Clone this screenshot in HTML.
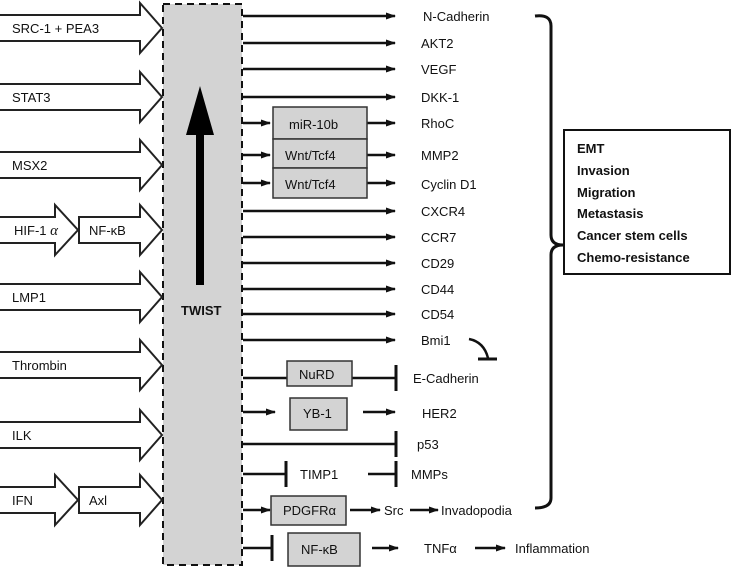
<!DOCTYPE html>
<html><head><meta charset="utf-8"><style>
html,body{margin:0;padding:0;background:#fff;}
svg{display:block;}
text{font-family:"Liberation Sans",sans-serif;font-size:13px;fill:#111;}
.b{font-weight:bold;}
</style></head><body>
<svg width="733" height="568" viewBox="0 0 733 568">
<defs>
<marker id="a" markerWidth="10" markerHeight="10" refX="9" refY="5" orient="auto" markerUnits="userSpaceOnUse"><path d="M0,1.5 L10,5 L0,8.5 Z" fill="#111"/></marker>
</defs>
<rect x="163" y="4" width="79" height="561" fill="#d3d3d3" stroke="#111" stroke-width="2" stroke-dasharray="7,5"/>
<path d="M196,285 L196,135 L186,135 L200,86 L214,135 L204,135 L204,285 Z" fill="#000"/>
<text x="181" y="315" class="b">TWIST</text>
<g fill="#fff" stroke="#222" stroke-width="2">
<path d="M0,15 L140,15 L140,3 L162,28 L140,53 L140,41 L0,41"/>
<path d="M0,84 L140,84 L140,72 L162,97 L140,122 L140,110 L0,110"/>
<path d="M0,152 L140,152 L140,140 L162,165 L140,190 L140,178 L0,178"/>
<path d="M0,217 L55,217 L55,205 L78,230 L55,255 L55,243 L0,243"/>
<path d="M79,217 L140,217 L140,205 L162,230 L140,255 L140,243 L79,243 Z"/>
<path d="M0,284 L140,284 L140,272 L162,297 L140,322 L140,310 L0,310"/>
<path d="M0,352 L140,352 L140,340 L162,365 L140,390 L140,378 L0,378"/>
<path d="M0,422 L140,422 L140,410 L162,435 L140,460 L140,448 L0,448"/>
<path d="M0,487 L55,487 L55,475 L78,500 L55,525 L55,513 L0,513"/>
<path d="M79,487 L140,487 L140,475 L162,500 L140,525 L140,513 L79,513 Z"/>
</g>
<text x="12" y="33">SRC-1 + PEA3</text>
<text x="12" y="102">STAT3</text>
<text x="12" y="170">MSX2</text>
<text x="14" y="235">HIF-1 <tspan font-style="italic" font-family="Liberation Serif" font-size="15">α</tspan></text>
<text x="89" y="235">NF-κB</text>
<text x="12" y="302">LMP1</text>
<text x="12" y="370">Thrombin</text>
<text x="12" y="440">ILK</text>
<text x="12" y="505">IFN</text>
<text x="89" y="505">Axl</text>
<g stroke="#111" stroke-width="2.5" fill="none">
<line x1="243" y1="16" x2="395" y2="16" marker-end="url(#a)"/>
<line x1="243" y1="43" x2="395" y2="43" marker-end="url(#a)"/>
<line x1="243" y1="69" x2="395" y2="69" marker-end="url(#a)"/>
<line x1="243" y1="97" x2="395" y2="97" marker-end="url(#a)"/>
<line x1="243" y1="123" x2="270" y2="123" marker-end="url(#a)"/>
<line x1="367" y1="123" x2="395" y2="123" marker-end="url(#a)"/>
<line x1="243" y1="155" x2="270" y2="155" marker-end="url(#a)"/>
<line x1="367" y1="155" x2="395" y2="155" marker-end="url(#a)"/>
<line x1="243" y1="183" x2="270" y2="183" marker-end="url(#a)"/>
<line x1="367" y1="183" x2="395" y2="183" marker-end="url(#a)"/>
<line x1="243" y1="211" x2="395" y2="211" marker-end="url(#a)"/>
<line x1="243" y1="237" x2="395" y2="237" marker-end="url(#a)"/>
<line x1="243" y1="263" x2="395" y2="263" marker-end="url(#a)"/>
<line x1="243" y1="289" x2="395" y2="289" marker-end="url(#a)"/>
<line x1="243" y1="314" x2="395" y2="314" marker-end="url(#a)"/>
<line x1="243" y1="340" x2="395" y2="340" marker-end="url(#a)"/>
<line x1="243" y1="378" x2="287" y2="378"/>
<line x1="352" y1="378" x2="396" y2="378"/>
<line x1="396" y1="365" x2="396" y2="391" stroke-width="3"/>
<line x1="243" y1="412" x2="275" y2="412" marker-end="url(#a)"/>
<line x1="363" y1="412" x2="395" y2="412" marker-end="url(#a)"/>
<line x1="243" y1="444" x2="396" y2="444"/>
<line x1="396" y1="431" x2="396" y2="457" stroke-width="3"/>
<line x1="243" y1="474" x2="286" y2="474"/>
<line x1="286" y1="461" x2="286" y2="487" stroke-width="3"/>
<line x1="368" y1="474" x2="396" y2="474"/>
<line x1="396" y1="461" x2="396" y2="487" stroke-width="3"/>
<line x1="243" y1="510" x2="270" y2="510" marker-end="url(#a)"/>
<line x1="350" y1="510" x2="380" y2="510" marker-end="url(#a)"/>
<line x1="410" y1="510" x2="438" y2="510" marker-end="url(#a)"/>
<line x1="243" y1="548" x2="272" y2="548"/>
<line x1="272" y1="535" x2="272" y2="561" stroke-width="3"/>
<line x1="372" y1="548" x2="398" y2="548" marker-end="url(#a)"/>
<line x1="475" y1="548" x2="505" y2="548" marker-end="url(#a)"/>
<path d="M469,339 Q484,342 488,358"/>
<line x1="478" y1="359" x2="497" y2="359" stroke-width="3"/>
<path d="M535,16 Q551,14 551,26 L551,235 Q551,245 563,245 Q551,245 551,255 L551,498 Q551,508 535,508" stroke-width="3"/>
</g>
<g fill="#d3d3d3" stroke="#333" stroke-width="1.5">
<rect x="273" y="107" width="94" height="32"/>
<rect x="273" y="139" width="94" height="29"/>
<rect x="273" y="168" width="94" height="30"/>
<rect x="287" y="361" width="65" height="25"/>
<rect x="290" y="398" width="57" height="32"/>
<rect x="271" y="496" width="75" height="29"/>
<rect x="288" y="533" width="72" height="33"/>
</g>
<text x="289" y="129">miR-10b</text>
<text x="285" y="160">Wnt/Tcf4</text>
<text x="285" y="189">Wnt/Tcf4</text>
<text x="299" y="379">NuRD</text>
<text x="303" y="418">YB-1</text>
<text x="283" y="515" font-size="11">PDGFRα</text>
<text x="301" y="554">NF-κB</text>
<text x="423" y="21">N-Cadherin</text>
<text x="421" y="48">AKT2</text>
<text x="421" y="74">VEGF</text>
<text x="421" y="102">DKK-1</text>
<text x="421" y="128">RhoC</text>
<text x="421" y="160">MMP2</text>
<text x="421" y="189">Cyclin D1</text>
<text x="421" y="216">CXCR4</text>
<text x="421" y="242">CCR7</text>
<text x="421" y="268">CD29</text>
<text x="421" y="294">CD44</text>
<text x="421" y="319">CD54</text>
<text x="421" y="345">Bmi1</text>
<text x="413" y="383">E-Cadherin</text>
<text x="422" y="418">HER2</text>
<text x="417" y="449">p53</text>
<text x="300" y="479">TIMP1</text>
<text x="411" y="479">MMPs</text>
<text x="384" y="515">Src</text>
<text x="441" y="515">Invadopodia</text>
<text x="424" y="553">TNFα</text>
<text x="515" y="553">Inflammation</text>
<rect x="564" y="130" width="166" height="144" fill="#fff" stroke="#111" stroke-width="2"/>
<text x="577" y="153" class="b">EMT</text>
<text x="577" y="175" class="b">Invasion</text>
<text x="577" y="197" class="b">Migration</text>
<text x="577" y="218" class="b">Metastasis</text>
<text x="577" y="240" class="b">Cancer stem cells</text>
<text x="577" y="262" class="b">Chemo-resistance</text>
</svg>
</body></html>
